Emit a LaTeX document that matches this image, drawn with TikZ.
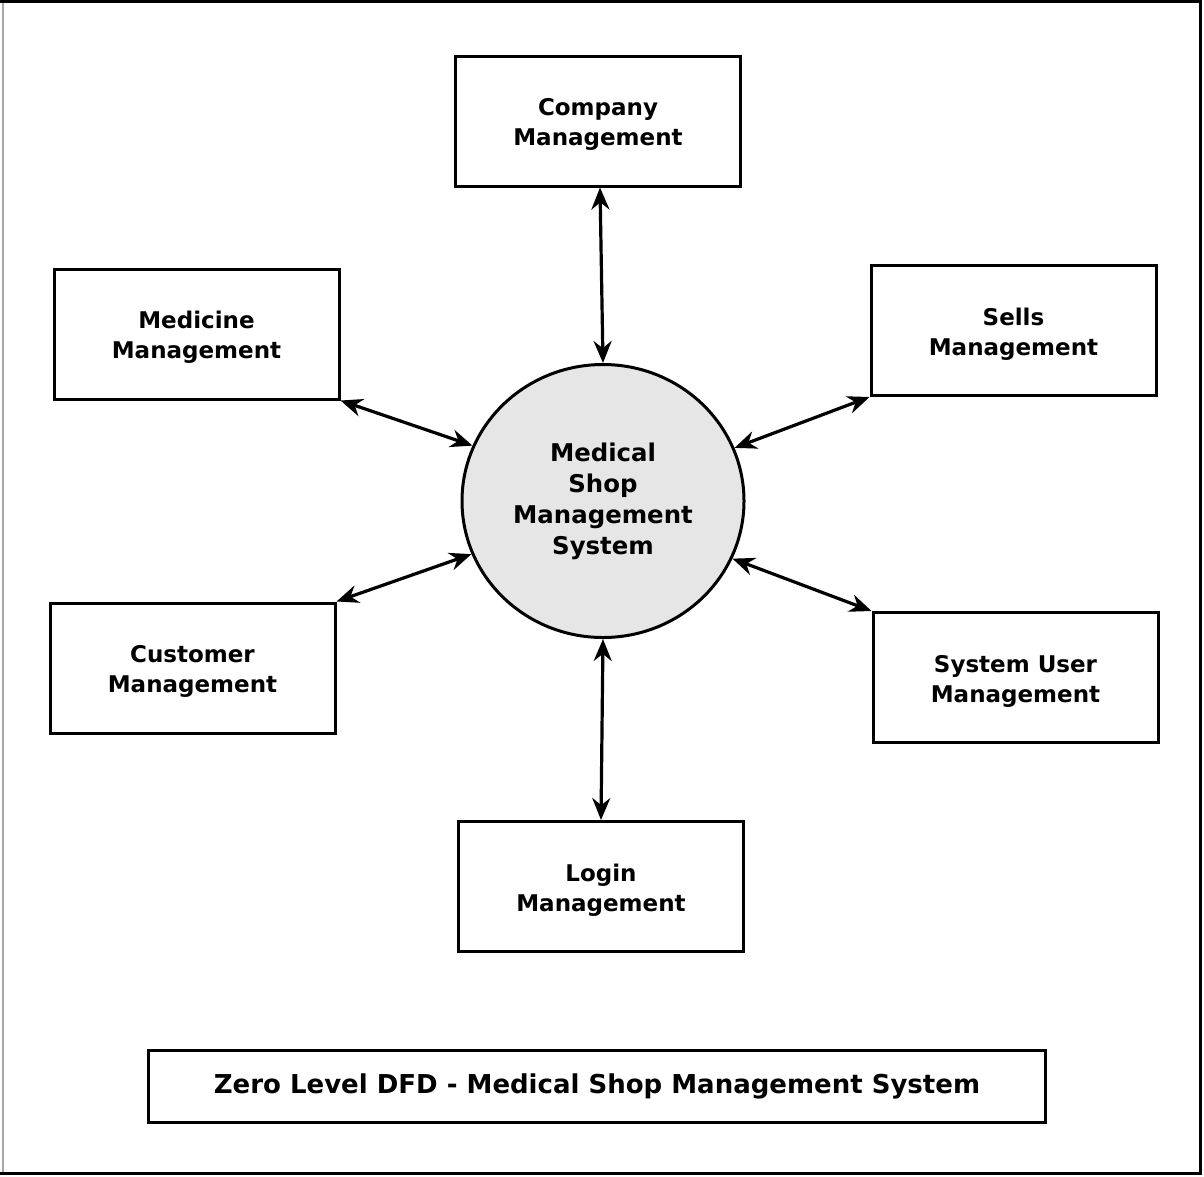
\documentclass[tikz,border=0pt]{standalone}
\usepackage{fontspec}
\setmainfont{DejaVu Sans}
\usetikzlibrary{arrows.meta,shapes.geometric}
\definecolor{procfill}{HTML}{E6E6E6}
\begin{document}
\begin{tikzpicture}[x=1pt,y=-1pt,
  entity/.style={draw=black,line width=3pt,minimum width=285pt,minimum height=130pt,
    align=center,font=\bfseries\fontsize{23}{30}\selectfont,inner sep=0pt,
    text height=54pt,text depth=5pt},
  proc/.style={ellipse,draw=black,line width=3pt,fill=procfill,minimum width=282pt,minimum height=273pt,
    align=center,font=\bfseries\fontsize{24.4}{31}\selectfont,inner sep=0pt},
  flow/.style={line width=3.2pt,{Stealth[length=22pt,width=18pt]}-{Stealth[length=22pt,width=18pt]}},
  titlebox/.style={draw=black,line width=3pt,minimum width=897pt,minimum height=72pt,
    font=\bfseries\fontsize{26}{30}\selectfont,inner sep=0pt}]
\useasboundingbox (0,0) rectangle (1204,1176);
\fill[white] (0,0) rectangle (1204,1176);
% outer frame
\draw[black!35,line width=1.5pt] (3,1) -- (3,1173);
\draw[black,line width=3pt] (0,1.5) -- (1200.5,1.5) -- (1200.5,1173.5) -- (0,1173.5);
% nodes
\node[proc] (sys) at (603,501) {Medical\\Shop\\Management\\System};
\node[entity] (company) at (598,121) {Company\\Management};
\node[entity] (medicine) at (196.5,334) {Medicine\\Management};
\node[entity] (sells) at (1013.5,330.5) {Sells\\Management};
\node[entity] (customer) at (192.5,668) {Customer\\Management};
\node[entity] (sysuser) at (1015.5,677.5) {System User\\Management};
\node[entity] (login) at (601,886.5) {Login\\Management};
\node[titlebox] (title) at (597,1086.5) {Zero Level DFD - Medical Shop Management System};
% flows
\draw[flow] (company.south) ++(2,0) coordinate (cs) (cs) -- (sys.north);
\draw[flow] (medicine.south east) -- (sys.157.6);
\draw[flow] (sells.south west) -- (sys.22.3);
\draw[flow] (customer.north east) -- (sys.202.6);
\draw[flow] (sysuser.north west) -- (sys.336.8);
\draw[flow] (login.north) -- (sys.south);
\end{tikzpicture}
\end{document}
